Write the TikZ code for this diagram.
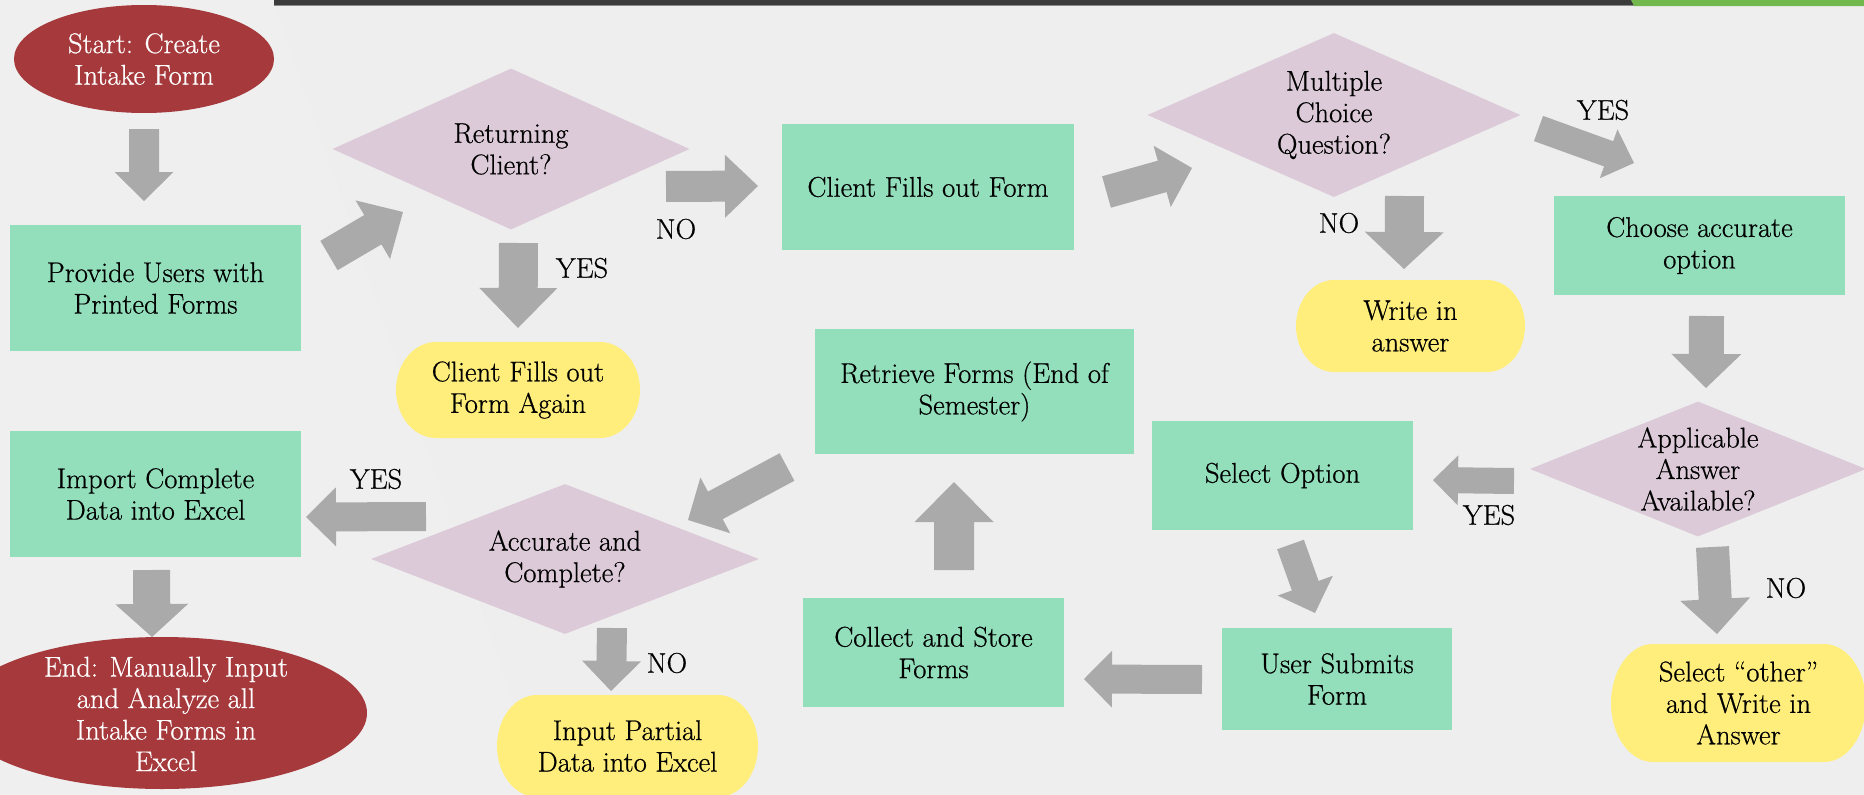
\documentclass[tikz,border=0pt]{standalone}
\usepackage{fontspec}
\setmainfont{Latin Modern Roman}[FakeBold=0.6]
\usetikzlibrary{shapes.geometric,calc}
\definecolor{bgc}{HTML}{EEEEEE}
\definecolor{bgl}{HTML}{EFEFEF}
\definecolor{boxgreen}{HTML}{93DEBB}
\definecolor{diamc}{HTML}{DCCAD8}
\definecolor{pilly}{HTML}{FFEE7C}
\definecolor{termred}{HTML}{A5393B}
\definecolor{arrg}{HTML}{AAAAAA}
\definecolor{bardark}{HTML}{3B3B3B}
\definecolor{barline}{HTML}{8A8A8A}
\definecolor{bargreen}{HTML}{72B84C}
% block arrow: #1 tail, #2 tip, #3 shaft half width, #4 head half width, #5 head length
\newcommand{\blockarrow}[5]{%
  \coordinate (ba-b) at ($(#2)!#5!(#1)$);
  \fill[arrg] ($(#1)!#3!90:(#2)$) -- ($(ba-b)!#3!90:(#2)$) -- ($(ba-b)!#4!90:(#2)$) -- (#2)
    -- ($(ba-b)!#4!-90:(#2)$) -- ($(ba-b)!#3!-90:(#2)$) -- ($(#1)!#3!-90:(#2)$) -- cycle;
}
% pill: #1 name, #2 x1, #3 y1, #4 x2, #5 y2, #6 rx, #7 text
\newcommand{\pillshape}[7]{%
  \fill[pilly] (#2+#6,#3) -- (#4-#6,#3)
    arc[start angle=-90,end angle=90,x radius=#6,y radius={(#5-#3)/2}]
    -- (#2+#6,#5)
    arc[start angle=90,end angle=270,x radius=#6,y radius={(#5-#3)/2}] -- cycle;
  \node (#1) at ({(#2+#4)/2},{(#3+#5)/2}) {#7};
}
\begin{document}
\begin{tikzpicture}[x=1pt,y=-1pt,
  every node/.style={font=\fontsize{28.5}{31.5}\selectfont, align=center, inner sep=0pt},
  gbox/.style={fill=boxgreen, rectangle},
  diam/.style={fill=diamc, diamond},
  lbl/.style={text=black}]
\useasboundingbox (0,0) rectangle (1864,795);
\clip (0,0) rectangle (1864,795);
\fill[bgc] (0,0) rectangle (1864,795);
\fill[bgl] (0,0) -- (274,0) -- (545,795) -- (0,795) -- cycle;
% top bar
\fill[bardark] (274,0) rectangle (1634,5);
\fill[barline] (274,5) rectangle (1634,6);
\fill[bargreen] (1631,0) -- (1864,0) -- (1864,6) -- (1634,6) -- cycle;

% ---- shapes ----
\node[fill=termred, ellipse, minimum width=260pt, minimum height=108pt, text=white] (start) at (144,59) {Start: Create\\Intake Form};
\node[gbox, minimum width=291pt, minimum height=126pt] (provide) at (155.5,288) {Provide Users with\\Printed Forms};
\node[diam, minimum width=357pt, minimum height=161pt, aspect=2.2] (returning) at (511,149) {Returning\\Client?};
\node[gbox, minimum width=292pt, minimum height=126pt] (fills) at (928,187) {Client Fills out Form};
\pillshape{again}{396}{342}{640}{438}{40}{Client Fills out\\Form Again}
\node[diam, minimum width=373pt, minimum height=164pt, aspect=2.27] (multiple) at (1334,115) {Multiple\\Choice\\Question?};
\pillshape{writein}{1296}{280}{1525}{372}{38}{Write in\\answer}
\node[gbox, minimum width=291pt, minimum height=99pt] (choose) at (1699.5,245.5) {Choose accurate\\option};
\node[diam, minimum width=336pt, minimum height=135pt, aspect=2.49] (applicable) at (1698,469) {Applicable\\Answer\\Available?};
\node[gbox, minimum width=261pt, minimum height=109pt] (selectopt) at (1282.5,475.5) {Select Option};
\pillshape{other}{1611}{644}{1866}{762}{42}{Select “other”\\and Write in\\Answer}
\node[gbox, minimum width=230pt, minimum height=102pt] (submits) at (1337,679) {User Submits\\Form};
\node[gbox, minimum width=261pt, minimum height=109pt] (collect) at (933.5,652.5) {Collect and Store\\Forms};
\node[gbox, minimum width=319pt, minimum height=125pt] (retrieve) at (974.5,391.5) {Retrieve Forms (End of\\Semester)};
\node[diam, minimum width=388pt, minimum height=150pt, aspect=2.59] (accurate) at (565,559) {Accurate and\\Complete?};
\node[gbox, minimum width=291pt, minimum height=126pt] (import) at (155.5,494) {Import Complete\\Data into Excel};
\pillshape{partial}{497}{695}{758}{797}{40}{Input Partial\\Data into Excel}
\fill[termred] (162,713) ellipse[x radius=205, y radius=76];
\node[text=white] (endn) at (166,714) {End: Manually Input\\and Analyze all\\Intake Forms in\\Excel};

% ---- arrow end points ----
\coordinate (a1s) at (144,129);   \coordinate (a1e) at (144,201);
\coordinate (a2s) at (329,255.5); \coordinate (a2e) at (403,212);
\coordinate (a3s) at (666,186.5); \coordinate (a3e) at (758,186);
\coordinate (a4s) at (518.5,243); \coordinate (a4e) at (518,328);
\coordinate (a5s) at (1106.5,192);\coordinate (a5e) at (1192,168);
\coordinate (a6s) at (1538.5,128.5); \coordinate (a6e) at (1634,163);
\coordinate (a7s) at (1404.5,196);\coordinate (a7e) at (1404,269);
\coordinate (a8s) at (1706.5,316);\coordinate (a8e) at (1706,388);
\coordinate (a9s) at (1514,481);  \coordinate (a9e) at (1433,480);
\coordinate (a10s) at (1712.5,547); \coordinate (a10e) at (1717,634);
\coordinate (a11s) at (1290.5,544.5); \coordinate (a11e) at (1315,613);
\coordinate (a12s) at (1202,679.5); \coordinate (a12e) at (1084,679);
\coordinate (a13s) at (954,570);  \coordinate (a13e) at (954,482);
\coordinate (a14s) at (787,467);  \coordinate (a14e) at (688,520);
\coordinate (a15s) at (426,516.5);\coordinate (a15e) at (306,517);
\coordinate (a16s) at (612,628);  \coordinate (a16e) at (611,691);
\coordinate (a17s) at (151.5,570);\coordinate (a17e) at (152,637);

\blockarrow{a1s}{a1e}{15pt}{29.5pt}{29pt}
\blockarrow{a2s}{a2e}{17pt}{34pt}{35pt}
\blockarrow{a3s}{a3e}{15.5pt}{31.5pt}{33pt}
\blockarrow{a4s}{a4e}{19.5pt}{39pt}{40pt}
\blockarrow{a5s}{a5e}{16.3pt}{31.8pt}{31pt}
\blockarrow{a6s}{a6e}{13.4pt}{26pt}{27pt}
\blockarrow{a7s}{a7e}{19.5pt}{39.5pt}{37pt}
\blockarrow{a8s}{a8e}{17.5pt}{35pt}{34pt}
\blockarrow{a9s}{a9e}{13pt}{25pt}{25pt}
\blockarrow{a10s}{a10e}{16.5pt}{35pt}{35pt}
\blockarrow{a11s}{a11e}{14.2pt}{29.3pt}{29pt}
\blockarrow{a12s}{a12e}{14.5pt}{28.5pt}{28pt}
\blockarrow{a13s}{a13e}{20pt}{39.5pt}{40pt}
\blockarrow{a14s}{a14e}{15.6pt}{31.6pt}{31pt}
\blockarrow{a15s}{a15e}{14.5pt}{29.5pt}{30pt}
\blockarrow{a16s}{a16e}{15pt}{29.5pt}{30pt}
\blockarrow{a17s}{a17e}{18.5pt}{36.5pt}{33pt}

% ---- labels ----
\node[lbl] (l3) at (676,229) {NO};
\node[lbl] (l4) at (582,268) {YES};
\node[lbl] (l6) at (1603,110) {YES};
\node[lbl] (l7) at (1339,223) {NO};
\node[lbl] (l9) at (1489,515) {YES};
\node[lbl] (l10) at (1786,588) {NO};
\node[lbl] (l15) at (376,479) {YES};
\node[lbl] (l16) at (667,663) {NO};
\end{tikzpicture}
\end{document}
